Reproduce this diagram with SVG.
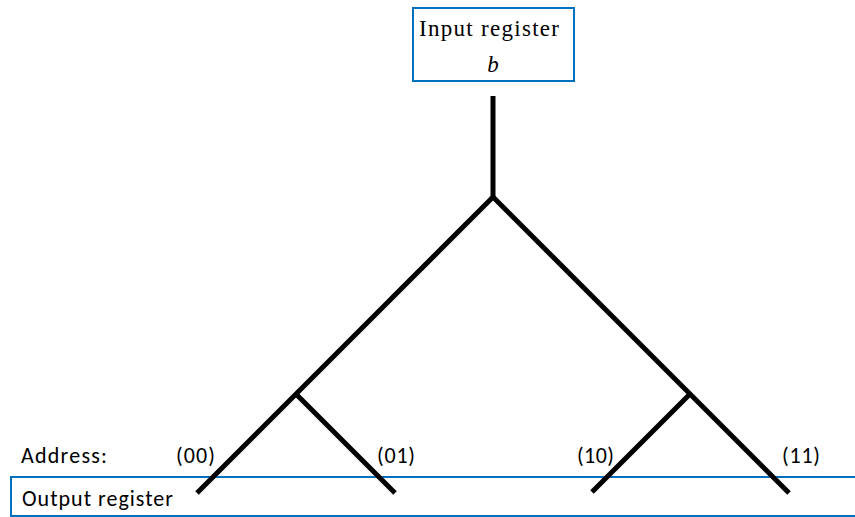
<svg xmlns="http://www.w3.org/2000/svg" width="855" height="517" viewBox="0 0 855 517">
<style>
.box{fill:#fff;stroke:#0070C0;stroke-width:2}
.br{fill:none;stroke:#000;stroke-width:5;stroke-linecap:butt}
.serif{font-family:"Liberation Serif","Times New Roman",serif;font-size:23px;fill:#000}
.sans{font-family:"Carlito","Liberation Sans",Arial,sans-serif;font-size:22px;fill:#000}
</style>
<rect width="855" height="517" fill="#fff"/>
<g id="output-register">
<rect class="box" x="11" y="477" width="850" height="39"/>
<text class="sans" x="22" y="506" textLength="151" lengthAdjust="spacing">Output register</text>
</g>
<g id="input-register">
<rect class="box" x="413" y="8" width="161" height="73"/>
<text class="serif" x="419" y="36" textLength="140" lengthAdjust="spacing">Input register</text>
<text class="serif" x="493" y="72" text-anchor="middle" font-style="italic">b</text>
</g>
<g id="connectors">
<path class="br" d="M493,96 V197"/>
<path class="br" d="M493,197 L197,493"/>
<path class="br" d="M493,197 L789,493"/>
<path class="br" d="M296,394 L395,493"/>
<path class="br" d="M691,393 L592,492"/>
</g>
<g id="labels">
<text class="sans" x="21" y="463" textLength="86" lengthAdjust="spacing">Address:</text>
<text class="sans" x="176" y="463" textLength="39" lengthAdjust="spacing">(00)</text>
<text class="sans" x="377" y="463" textLength="38" lengthAdjust="spacing">(01)</text>
<text class="sans" x="577" y="463" textLength="37" lengthAdjust="spacing">(10)</text>
<text class="sans" x="782" y="463" textLength="38" lengthAdjust="spacing">(11)</text>
</g>
</svg>
